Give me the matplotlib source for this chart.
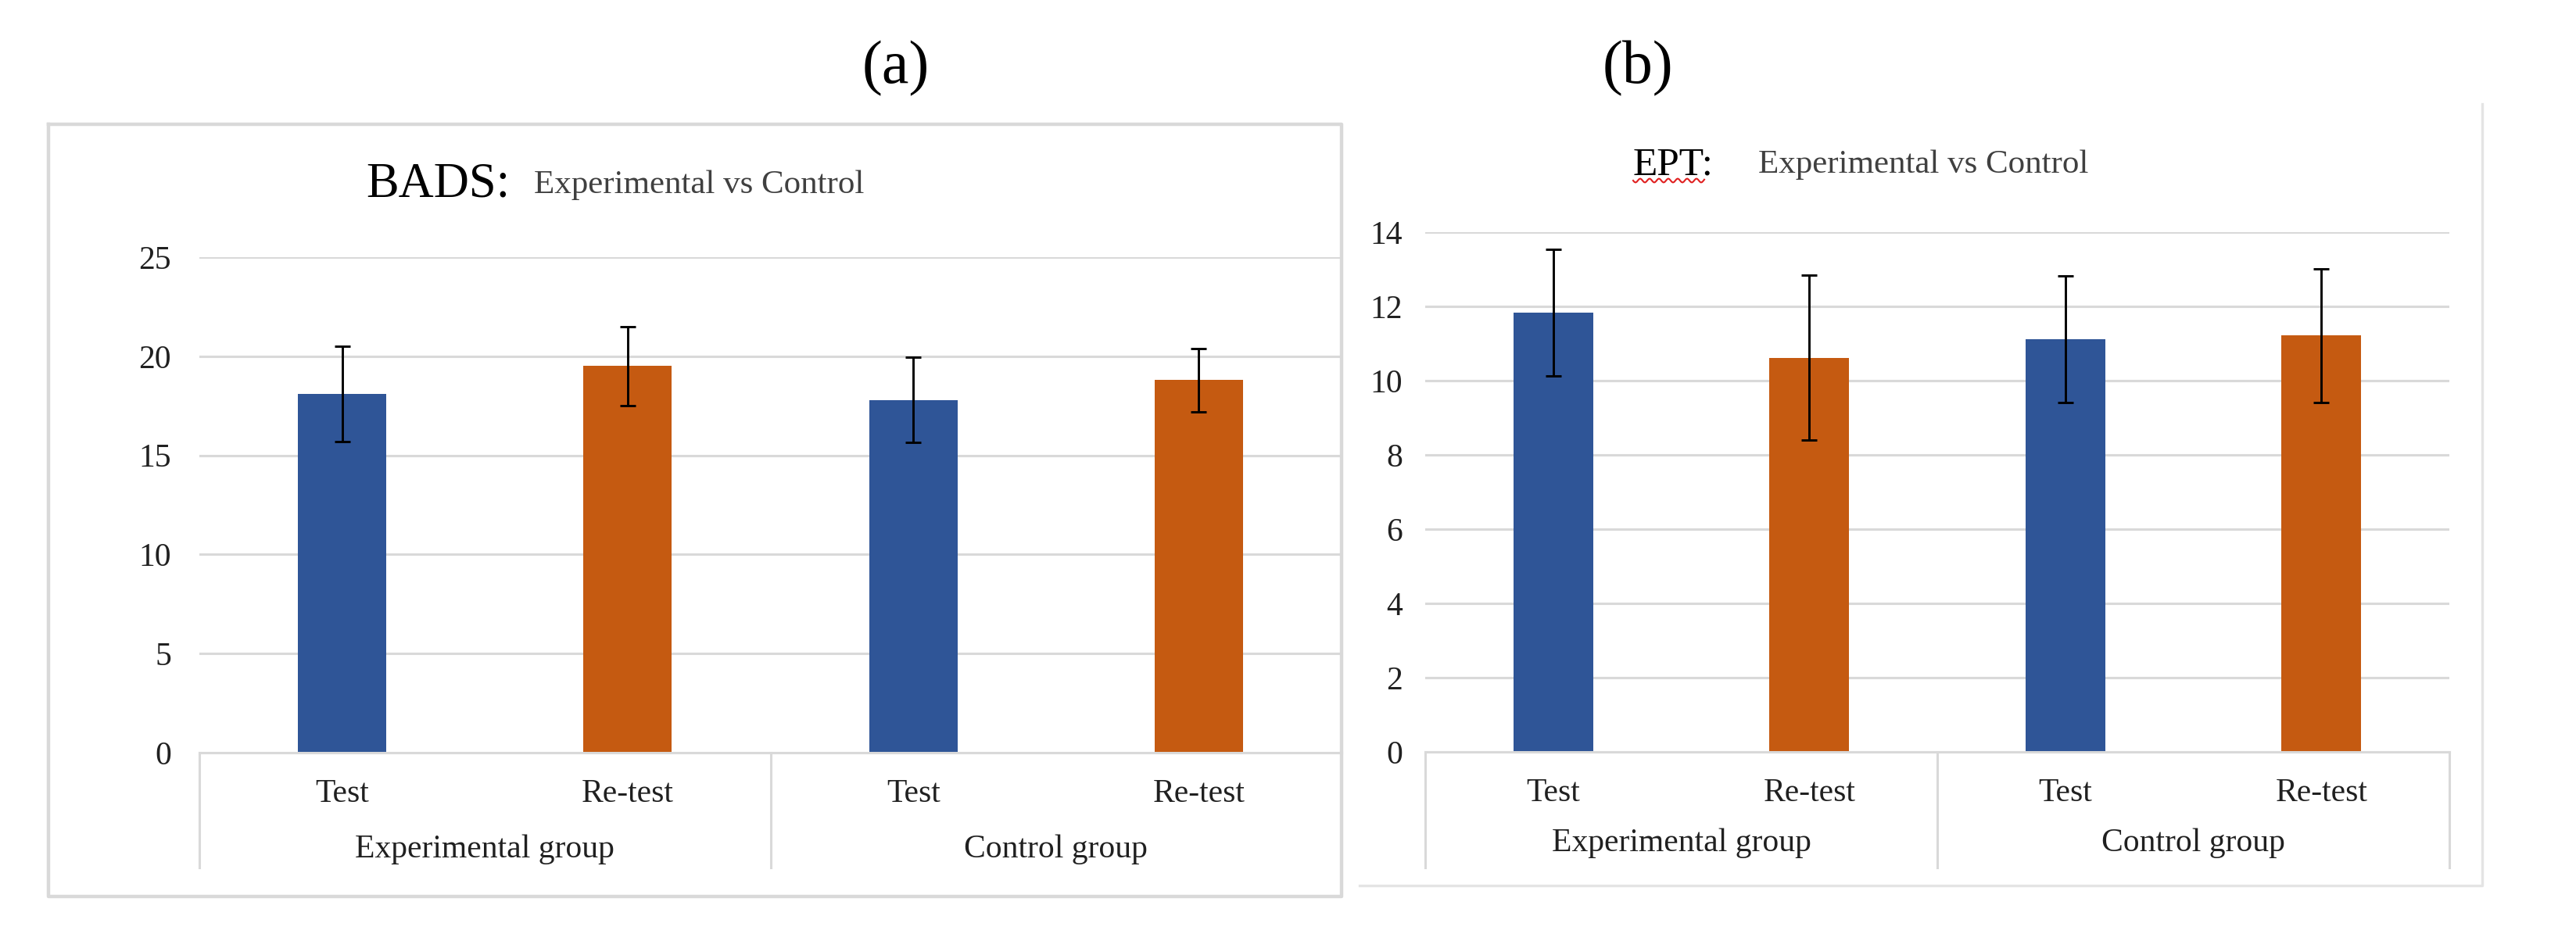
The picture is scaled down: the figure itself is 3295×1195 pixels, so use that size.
import numpy as np
import matplotlib
matplotlib.use("Agg")
import matplotlib.pyplot as plt
from matplotlib.lines import Line2D

plt.rcParams['font.family'] = ['Liberation Serif', 'DejaVu Serif']

# data
categories = ["Test", "Re-test", "Test", "Re-test"]
groups = ["Experimental group", "Control group"]

bads_mean = [18.1, 19.5, 17.8, 18.8]
bads_sd = [2.4, 2.0, 2.15, 1.6]
bads_ticks = [0, 5, 10, 15, 20, 25]

ept_mean = [11.83, 10.62, 11.12, 11.22]
ept_sd = [1.70, 2.22, 1.71, 1.80]
ept_ticks = [0, 2, 4, 6, 8, 10, 12, 14]

BLUE = "#2F5597"
ORANGE = "#C55A11"
GRID = "#d9d9d9"
bar_colors = [BLUE, ORANGE, BLUE, ORANGE]

W, H = 3295, 1195
fig = plt.figure(figsize=(W / 100, H / 100), dpi=100)


def px(x0, y0, x1, y1):
    # pixel box (top-left origin) -> figure fraction rect
    return [x0 / W, 1 - y1 / H, (x1 - x0) / W, (y1 - y0) / H]


def draw_panel(ax, mean, sd, ticks, tick_pad, grp_y, sep_y, seps):
    x = np.arange(len(categories))
    ax.bar(x, mean, width=0.31, color=bar_colors, zorder=2)
    ax.errorbar(x, mean, yerr=sd, fmt="none", ecolor="black",
                elinewidth=2.1, capsize=7, capthick=2.1, zorder=3)
    ax.set_xlim(-0.5, 3.5)
    ax.set_ylim(0, ticks[-1])
    ax.set_yticks(ticks)
    ax.yaxis.grid(True, color=GRID, linewidth=2.2, zorder=0)
    ax.set_axisbelow(True)
    for s in ["top", "right", "left"]:
        ax.spines[s].set_visible(False)
    ax.spines["bottom"].set_color(GRID)
    ax.spines["bottom"].set_linewidth(2.2)
    ax.tick_params(axis="y", length=0, pad=tick_pad, labelsize=30,
                   labelcolor="#202020")
    ax.set_xticks(x)
    ax.set_xticklabels(categories)
    ax.tick_params(axis="x", length=0, pad=24, labelsize=30,
                   labelcolor="#202020")

    tr = ax.get_xaxis_transform()
    for gx, g in zip([0.5, 2.5], groups):
        ax.text(gx, grp_y, g, transform=tr, ha="center", va="center",
                fontsize=30, color="#202020")
    for sx in seps:
        ax.add_line(Line2D([sx, sx], [0, sep_y], transform=tr, color=GRID,
                           linewidth=2.2, clip_on=False))


# left panel (a)
ax1 = fig.add_axes(px(255, 329, 1716, 963))
draw_panel(ax1, bads_mean, bads_sd, bads_ticks, 26, -0.195, -0.232, [-0.5, 1.5])

# right panel (b)
ax2 = fig.add_axes(px(1823, 297, 3133, 962))
draw_panel(ax2, ept_mean, ept_sd, ept_ticks, 21, -0.175, -0.2226, [-0.5, 1.5, 3.5])

# frames around the pasted charts
frame_a = [(62, 159), (1716, 159), (1716, 1147), (62, 1147), (62, 159)]
fig.add_artist(Line2D([p[0] / W for p in frame_a], [1 - p[1] / H for p in frame_a],
                      color=GRID, linewidth=3.2))
frame_b = [(1739, 1133), (3175, 1133), (3175, 133)]
fig.add_artist(Line2D([p[0] / W for p in frame_b], [1 - p[1] / H for p in frame_b],
                      color="#e4e4e4", linewidth=2.4))

# titles
fig.text(468 / W, 1 - 252 / H, "BADS:", fontsize=45, color="black",
         ha="left", va="baseline")
fig.text(683 / W, 1 - 247 / H, "Experimental vs Control", fontsize=31,
         color="#404040", ha="left", va="baseline")
fig.text(2089 / W, 1 - 223 / H, "EPT:", fontsize=37, color="black",
         ha="left", va="baseline")
fig.text(2249 / W, 1 - 221 / H, "Experimental vs Control", fontsize=31,
         color="#404040", ha="left", va="baseline")

# red spell-check squiggle under EPT
sq_x = np.linspace(2089, 2180, 60)
sq_y = 231 + 2.5 * np.sin((sq_x - 2089) / 12 * 2 * np.pi)
fig.add_artist(Line2D(sq_x / W, 1 - sq_y / H, color="#e02020", linewidth=1.5))

fig.text(1146 / W, 1 - 88 / H, "(a)", fontsize=56, ha="center", va="center")
fig.text(2095 / W, 1 - 88 / H, "(b)", fontsize=56, ha="center", va="center")

fig.savefig("out.png", dpi=100, facecolor="white")
